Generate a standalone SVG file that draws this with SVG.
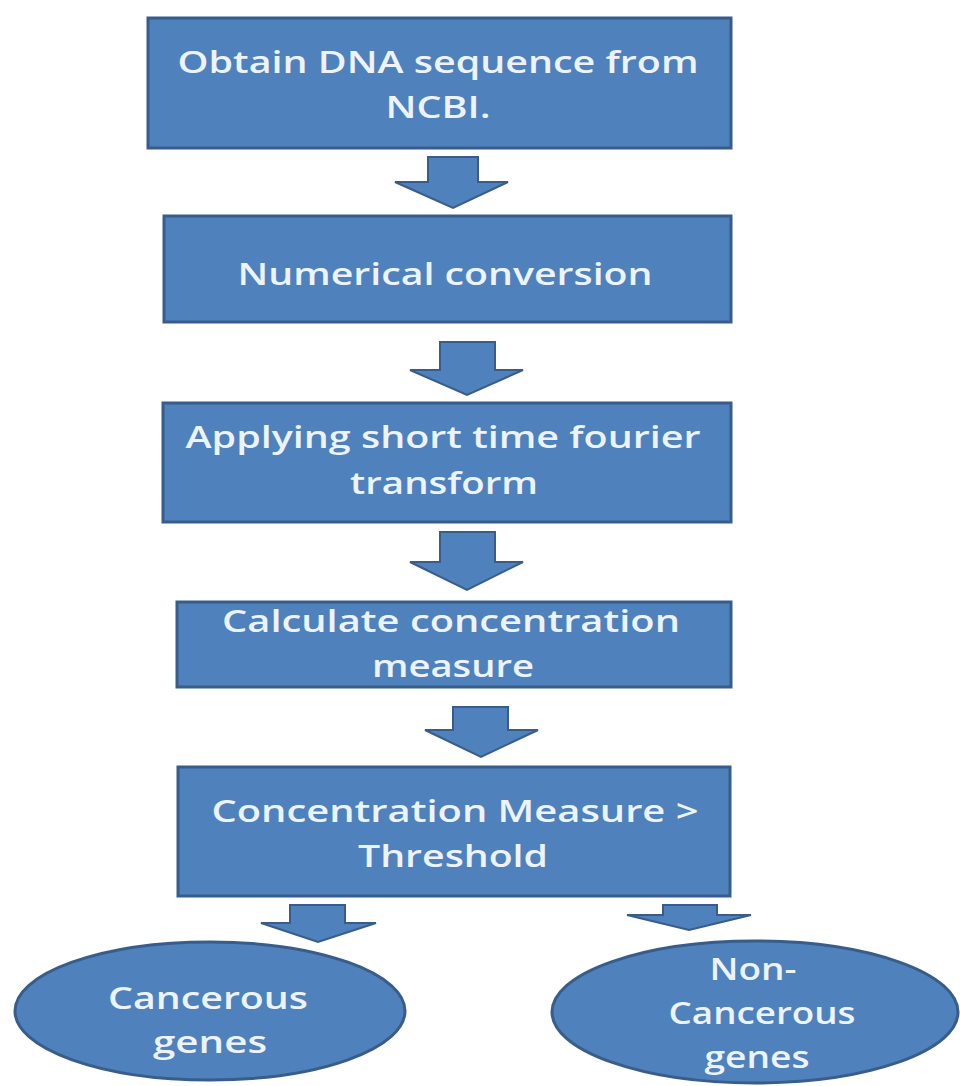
<svg xmlns="http://www.w3.org/2000/svg" width="960" height="1086" viewBox="0 0 960 1086">
<style>
.n{fill:#4F81BD;stroke:#385D8A;stroke-width:3}
.a{fill:#4F81BD;stroke:#385D8A;stroke-width:2;stroke-linejoin:miter}
.t{font-family:"Open Sans","Liberation Sans",sans-serif;font-weight:600;font-size:30px;fill:#EDF3FB;text-anchor:middle}
.e{font-size:31px}
</style>
<rect width="960" height="1086" fill="#ffffff"/>
<g id="connectors">
<path class="a" d="M428 157H478V182H508L453 208L395 182H428Z"/>
<path class="a" d="M440 342H495V370H523L467 395L410 370H440Z"/>
<path class="a" d="M440 532H495V562H523L467 590L410 562H440Z"/>
<path class="a" d="M453 707H508V730H538L481 757L425 730H453Z"/>
<path class="a" d="M290 905H345V923H376L318 942L261 923H290Z"/>
<path class="a" d="M663 905H717V915H751L689 930L627 915H663Z"/>
</g>
<g id="n1">
<rect class="n" x="148" y="18" width="583" height="130"/>
<text class="t" x="438" y="73" textLength="521" lengthAdjust="spacingAndGlyphs">Obtain DNA sequence from</text>
<text class="t" x="438" y="118" textLength="105" lengthAdjust="spacingAndGlyphs">NCBI.</text>
</g>
<g id="n2">
<rect class="n" x="164" y="216" width="567" height="106"/>
<text class="t" x="445" y="285" textLength="415" lengthAdjust="spacingAndGlyphs">Numerical conversion</text>
</g>
<g id="n3">
<rect class="n" x="163" y="403" width="568" height="119"/>
<text class="t" x="443" y="448" textLength="515" lengthAdjust="spacingAndGlyphs">Applying short time fourier</text>
<text class="t" x="444" y="494" textLength="188" lengthAdjust="spacingAndGlyphs">transform</text>
</g>
<g id="n4">
<rect class="n" x="177" y="602" width="554" height="85"/>
<text class="t" x="451" y="632" textLength="458" lengthAdjust="spacingAndGlyphs">Calculate concentration</text>
<text class="t" x="453" y="677" textLength="162" lengthAdjust="spacingAndGlyphs">measure</text>
</g>
<g id="n5">
<rect class="n" x="178" y="767" width="552" height="129"/>
<text class="t" x="455" y="822" textLength="487" lengthAdjust="spacingAndGlyphs">Concentration Measure &gt;</text>
<text class="t" x="453" y="867" textLength="190" lengthAdjust="spacingAndGlyphs">Threshold</text>
</g>
<g id="n6">
<ellipse class="n" cx="210" cy="1011" rx="195" ry="69"/>
<text class="t e" x="208" y="1009" textLength="200" lengthAdjust="spacingAndGlyphs">Cancerous</text>
<text class="t e" x="210" y="1053" textLength="114" lengthAdjust="spacingAndGlyphs">genes</text>
</g>
<g id="n7">
<ellipse class="n" cx="755" cy="1012" rx="203" ry="71"/>
<text class="t e" x="753" y="980" textLength="87" lengthAdjust="spacingAndGlyphs">Non-</text>
<text class="t e" x="762" y="1024" textLength="187" lengthAdjust="spacingAndGlyphs">Cancerous</text>
<text class="t e" x="757" y="1068" textLength="105" lengthAdjust="spacingAndGlyphs">genes</text>
</g>
</svg>
